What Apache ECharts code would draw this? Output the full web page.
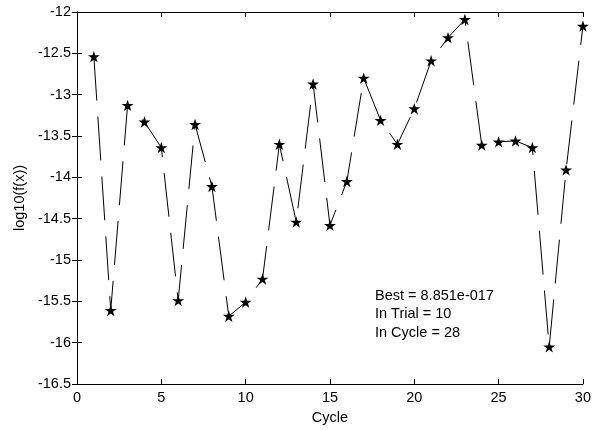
<!DOCTYPE html>
<html>
<head>
<meta charset="utf-8">
<script src="https://cdn.jsdelivr.net/npm/echarts@6/dist/echarts.min.js"></script>
<style>
  html, body { margin: 0; padding: 0; background: #fff; }
  #chart { width: 594px; height: 430px; }
</style>
</head>
<body>
<div id="chart"></div>
<script>
// cycle numbers and log10 of best fitness per cycle
const cycles = [1, 2, 3, 4, 5, 6, 7, 8, 9, 10, 11, 12, 13, 14, 15,
  16, 17, 18, 19, 20, 21, 22, 23, 24, 25, 26, 27, 28, 29, 30]
const logF = [-12.54, -15.61, -13.13, -13.33, -13.64, -15.49, -13.36, -14.11, -15.68, -15.51,
  -15.23, -13.60, -14.54, -12.87, -14.58, -14.05, -12.80, -13.31, -13.60, -13.17,
  -12.59, -12.31, -12.09, -13.61, -13.57, -13.56, -13.64, -16.05, -13.91, -12.17]
const notes = ['Best = 8.851e-017', 'In Trial = 10', 'In Cycle = 28']

const star = 'path://M100 0 L122.45 69.1 L195.1 69.1 L136.3 111.8 L158.8 180.9 L100 138.2 L41.2 180.9 L63.7 111.8 L4.9 69.1 L77.55 69.1 Z'
const font = 'Liberation Sans'
const fs = 14.5

const chart = echarts.init(document.getElementById('chart'))

const axisLine = { show: true, lineStyle: { color: '#000', width: 1 } }
const tick = { show: true, inside: true, length: 5, lineStyle: { color: '#000' } }

chart.setOption({
  animation: false,
  grid: { left: 77, right: 10, top: 12, bottom: 46 },
  xAxis: [{
    type: 'value',
    min: 0,
    max: 30,
    interval: 5,
    name: 'Cycle',
    nameLocation: 'middle',
    nameGap: 26,
    nameTextStyle: { color: '#000', fontFamily: font, fontSize: fs },
    axisLine,
    axisTick: tick,
    splitLine: { show: false },
    axisLabel: { color: '#000', fontFamily: font, fontSize: fs, margin: 6 },
  }, {
    type: 'value',
    position: 'top',
    min: 0,
    max: 30,
    interval: 5,
    axisLine,
    axisTick: tick,
    splitLine: { show: false },
    axisLabel: { show: false },
  }],
  yAxis: [{
    type: 'value',
    min: -16.5,
    max: -12,
    interval: 0.5,
    name: 'log10(f(x))',
    nameLocation: 'middle',
    nameGap: 50,
    nameTextStyle: { color: '#000', fontFamily: font, fontSize: fs },
    axisLine,
    axisTick: tick,
    splitLine: { show: false },
    axisLabel: { color: '#000', fontFamily: font, fontSize: fs, margin: 6 },
  }, {
    type: 'value',
    position: 'right',
    min: -16.5,
    max: -12,
    interval: 0.5,
    axisLine,
    axisTick: tick,
    splitLine: { show: false },
    axisLabel: { show: false },
  }],
  graphic: notes.map((t, i) => ({
    type: 'text',
    left: 375,
    top: 288 + i * 18.5,
    style: { text: t, fill: '#000', font: `${fs}px "${font}"` },
  })),
  series: [{
    type: 'line',
    data: cycles.map((c, i) => [c, logF[i]]),
    symbol: star,
    symbolKeepAspect: true,
    symbolSize: 12,
    showAllSymbol: true,
    clip: false,
    lineStyle: { color: '#000', width: 1, type: [44, 16] },
    itemStyle: { color: '#000' },
  }],
})
</script>
</body>
</html>
